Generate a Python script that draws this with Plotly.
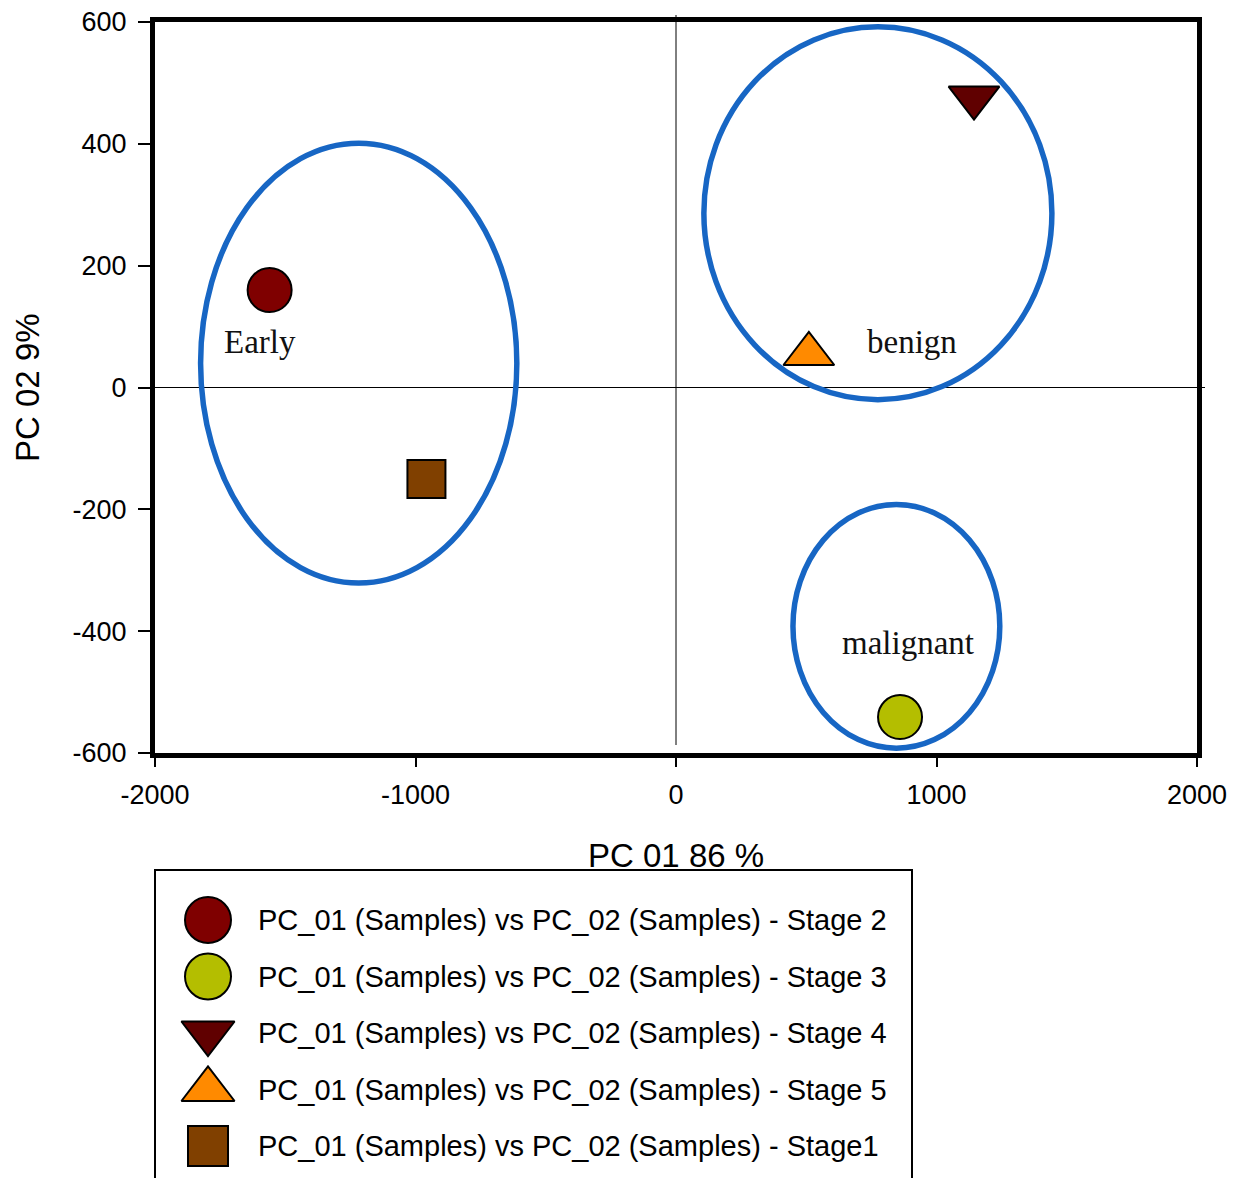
import plotly.graph_objects as go

W, H = 1241, 1178

# ---------------- data ----------------
stage_names = ["Stage 2", "Stage 3", "Stage 4", "Stage 5", "Stage1"]
pc01 = [-1560, 860, 1144, 510, -958]
pc02 = [160, -541, 476, 55, -150]
symbols = ["circle", "circle", "triangle-down", "triangle-up", "square"]
colors = ["#7F0000", "#B4BE00", "#600000", "#FF8A00", "#804000"]
sizes = [44, 44, 44, 44, 38]

# cluster ellipses (centre x, centre y, radius x, radius y)
ell_names = ["Early", "benign", "malignant"]
ell_cx = [-1218, 775, 846]
ell_cy = [40, 286, -392]
ell_rx = [607, 668, 397]
ell_ry = [361, 306, 200]
label_x = [-1597, 906, 891]
label_y = [74, 74, -419]

x_ticks = [-2000, -1000, 0, 1000, 2000]
x_tick_text = ["-2000", "-1000", "0", "1000", "2000"]
y_ticks = [-600, -400, -200, 0, 200, 400, 600]
y_tick_text = ["-600", "-400", "-200", "0", "200", "400", "600"]

legend_prefix = "PC_01 (Samples) vs PC_02 (Samples) - "

# ---------------- layout geometry ----------------
PL, PR, PT, PB = 155, 1197, 22, 753
LEG_L, LEG_R, LEG_T = 155, 912, 870
ROW0, ROW_STEP = 50, 56.5

fig = go.Figure()

for i, name in enumerate(stage_names):
    fig.add_trace(go.Scatter(
        x=[pc01[i]], y=[pc02[i]], mode="markers", name=name,
        marker=dict(symbol=symbols[i], size=sizes[i], color=colors[i],
                    line=dict(color="black", width=2)),
        showlegend=False, cliponaxis=False, xaxis="x", yaxis="y"))

# custom legend (large symbols)
for i, name in enumerate(stage_names):
    fig.add_trace(go.Scatter(
        x=[53], y=[ROW0 + i * ROW_STEP], mode="markers",
        marker=dict(symbol=symbols[i], size=sizes[i] + 2, color=colors[i],
                    line=dict(color="black", width=2)),
        showlegend=False, cliponaxis=False, hoverinfo="skip",
        xaxis="x2", yaxis="y2"))

shapes = []
# zero lines
shapes.append(dict(type="line", xref="x", yref="paper", x0=0, x1=0,
                   y0=1 - 745 / H, y1=1 - 15 / H,
                   line=dict(color="black", width=1), layer="below"))
shapes.append(dict(type="line", xref="paper", yref="y", x0=PL / W, x1=1205 / W,
                   y0=0, y1=0, line=dict(color="black", width=1), layer="below"))
for i in range(len(ell_names)):
    shapes.append(dict(type="circle", xref="x", yref="y",
                       x0=ell_cx[i] - ell_rx[i], x1=ell_cx[i] + ell_rx[i],
                       y0=ell_cy[i] - ell_ry[i], y1=ell_cy[i] + ell_ry[i],
                       line=dict(color="#1766C4", width=5.5), layer="below"))
# legend frame
shapes.append(dict(type="rect", xref="paper", yref="paper",
                   x0=LEG_L / W, x1=LEG_R / W, y0=-0.02, y1=1 - LEG_T / H,
                   line=dict(color="black", width=2)))

annotations = []
for i, name in enumerate(ell_names):
    annotations.append(dict(x=label_x[i], y=label_y[i], xref="x", yref="y",
                            text=name, showarrow=False,
                            font=dict(family="Liberation Serif, Times New Roman, serif",
                                      size=33, color="#111111")))
for i, name in enumerate(stage_names):
    annotations.append(dict(x=101, y=ROW0 + i * ROW_STEP, xref="x2", yref="y2",
                            text=legend_prefix + name, showarrow=False,
                            xanchor="left", yanchor="middle",
                            font=dict(family="Liberation Sans, Arial, sans-serif",
                                      size=29, color="black")))
# axis titles
annotations.append(dict(x=(PL + PR) / 2 / W, y=1 - 855 / H, xref="paper", yref="paper",
                        text="PC 01 86 %", showarrow=False, xanchor="center",
                        yanchor="middle",
                        font=dict(family="Liberation Sans, Arial, sans-serif",
                                  size=33, color="black")))
annotations.append(dict(x=27 / W, y=1 - 388 / H, xref="paper", yref="paper",
                        text="PC 02 9%", showarrow=False, textangle=-90,
                        xanchor="center", yanchor="middle",
                        font=dict(family="Liberation Sans, Arial, sans-serif",
                                  size=33, color="black")))

tickfont = dict(family="Liberation Sans, Arial, sans-serif", size=27, color="black")

fig.update_layout(
    width=W, height=H,
    margin=dict(l=0, r=0, t=0, b=0, pad=0, autoexpand=False),
    paper_bgcolor="white", plot_bgcolor="white",
    showlegend=False,
    shapes=shapes, annotations=annotations,
    xaxis=dict(domain=[PL / W, PR / W], range=[-2000, 2000],
               tickvals=x_ticks, ticktext=x_tick_text,
               ticks="outside", ticklen=9, tickwidth=2,
               tickcolor="black", showline=True, linecolor="black", linewidth=5,
               mirror=True, showgrid=False, zeroline=False, tickfont=tickfont,
               ticklabelstandoff=5, anchor="y", automargin=False),
    yaxis=dict(domain=[1 - PB / H, 1 - PT / H], range=[-600, 600],
               tickvals=y_ticks, ticktext=y_tick_text,
               ticks="outside", ticklen=12, tickwidth=2,
               tickcolor="black", showline=True, linecolor="black", linewidth=5,
               mirror=True, showgrid=False, zeroline=False, tickfont=tickfont,
               ticklabelstandoff=6, anchor="x", automargin=False),
    xaxis2=dict(domain=[LEG_L / W, LEG_R / W], range=[0, LEG_R - LEG_L],
                visible=False, anchor="y2", fixedrange=True, automargin=False),
    yaxis2=dict(domain=[0, 1 - LEG_T / H], range=[H - LEG_T, 0],
                visible=False, anchor="x2", fixedrange=True, automargin=False),
)

fig.write_html("out.html")
